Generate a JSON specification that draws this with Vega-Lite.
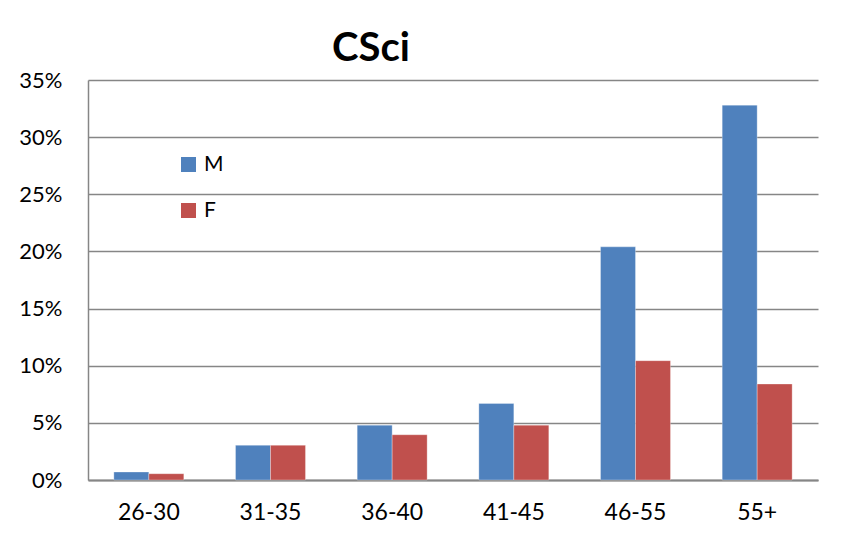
{
  "$schema": "https://vega.github.io/schema/vega-lite/v6.json",
  "width": 730,
  "height": 400,
  "autosize": {"type": "none"},
  "padding": {"left": 88, "top": 80, "right": 41, "bottom": 61},
  "background": "white",
  "title": {
    "text": "CSci",
    "font": "Lato",
    "fontSize": 40,
    "fontWeight": "bold",
    "color": "black",
    "anchor": "middle",
    "dx": -82,
    "offset": 0
  },
  "data": {
    "values": [
      {"age": "26-30", "sex": "M", "pct": 0.007},
      {"age": "26-30", "sex": "F", "pct": 0.0055},
      {"age": "31-35", "sex": "M", "pct": 0.0304},
      {"age": "31-35", "sex": "F", "pct": 0.0304},
      {"age": "36-40", "sex": "M", "pct": 0.048},
      {"age": "36-40", "sex": "F", "pct": 0.0396},
      {"age": "41-45", "sex": "M", "pct": 0.067},
      {"age": "41-45", "sex": "F", "pct": 0.048},
      {"age": "46-55", "sex": "M", "pct": 0.204},
      {"age": "46-55", "sex": "F", "pct": 0.1044},
      {"age": "55+", "sex": "M", "pct": 0.328},
      {"age": "55+", "sex": "F", "pct": 0.084}
    ]
  },
  "mark": {"type": "bar", "stroke": "white", "strokeWidth": 0.5, "strokeOpacity": 0.6},
  "encoding": {
    "x": {
      "field": "age",
      "type": "nominal",
      "sort": null,
      "scale": {"paddingInner": 0.425, "paddingOuter": 0.2125},
      "axis": {
        "title": null,
        "labelAngle": 0,
        "labelFont": "Lato",
        "labelFontSize": 23,
        "labelColor": "black",
        "labelPadding": 21,
        "ticks": false,
        "domainColor": "#868686",
        "domainWidth": 2,
        "grid": false
      }
    },
    "xOffset": {"field": "sex", "type": "nominal", "scale": {"domain": ["M", "F"]}},
    "y": {
      "field": "pct",
      "type": "quantitative",
      "scale": {"domain": [0, 0.35], "nice": false},
      "axis": {
        "title": null,
        "format": ".0%",
        "values": [0, 0.05, 0.1, 0.15, 0.2, 0.25, 0.3, 0.35],
        "labelFont": "Lato",
        "labelFontSize": 22,
        "labelColor": "black",
        "labelPadding": 26,
        "ticks": false,
        "domainColor": "#868686",
        "domainWidth": 1.5,
        "gridColor": "#868686",
        "gridWidth": 1.5
      }
    },
    "color": {
      "field": "sex",
      "type": "nominal",
      "scale": {"domain": ["M", "F"], "range": ["#4F81BD", "#C0504D"]},
      "legend": {
        "title": null,
        "orient": "none",
        "legendX": 90,
        "legendY": 74,
        "symbolType": "square",
        "symbolSize": 225,
        "symbolStrokeWidth": 0,
        "labelFont": "Lato",
        "labelFontSize": 21,
        "labelColor": "black",
        "labelOffset": 5,
        "rowPadding": 24
      }
    }
  },
  "config": {"view": {"stroke": null}}
}
